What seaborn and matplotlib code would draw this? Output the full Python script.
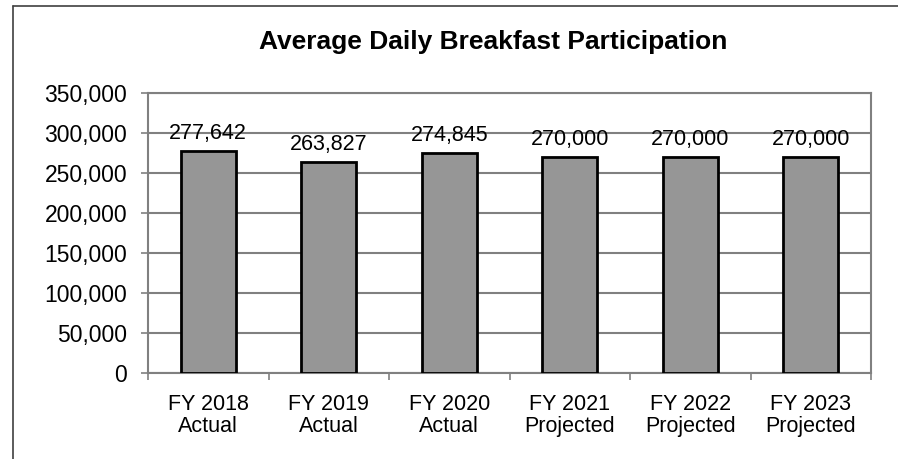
import matplotlib
matplotlib.use("Agg")
import matplotlib.pyplot as plt
import seaborn as sns
import pandas as pd
import numpy as np
from matplotlib.ticker import FuncFormatter, FixedLocator
from matplotlib.lines import Line2D

categories = ["FY 2018\nActual", "FY 2019\nActual", "FY 2020\nActual",
              "FY 2021\nProjected", "FY 2022\nProjected", "FY 2023\nProjected"]
values = [277642, 263827, 274845, 270000, 270000, 270000]
title = "Average Daily Breakfast Participation"

sns.set_theme(style="white")
plt.rcParams['font.family'] = ['Liberation Sans', 'DejaVu Sans']

df = pd.DataFrame({"cat": categories, "val": values})

fig = plt.figure(figsize=(8.98, 4.59), dpi=100)
ax = fig.add_axes([148/898, 1 - 373/459, (871-148)/898, (373-93)/459])

sns.barplot(data=df, x="cat", y="val", ax=ax, color="#969696", saturation=1,
            width=0.46, edgecolor="black", linewidth=2, zorder=3)

ax.set_ylim(0, 350000)
ax.set_xlim(-0.5, len(categories) - 0.5)
ax.yaxis.set_major_locator(FixedLocator(np.arange(0, 350001, 50000)))
ax.yaxis.set_major_formatter(FuncFormatter(lambda v, p: f"{int(v):,}"))
ax.grid(axis="y", color="#808080", linewidth=1.5, zorder=0)
ax.set_axisbelow(True)

for s in ax.spines.values():
    s.set_color("#808080")
    s.set_linewidth(1.5)

ax.tick_params(axis="y", which="major", left=True, length=5, width=1.2,
               color="#808080", labelsize=16.5, pad=10, labelcolor="black")
ax.tick_params(axis="x", which="major", bottom=False, labelsize=15.5, pad=9,
               labelcolor="black")
for lbl in ax.get_xticklabels():
    lbl.set_linespacing(1.1)
ax.xaxis.set_minor_locator(FixedLocator(np.arange(-0.5, len(categories), 1.0)))
ax.tick_params(axis="x", which="minor", bottom=True, length=5, width=1.2,
               color="#808080")
ax.set_xlabel("")
ax.set_ylabel("")

for i, v in enumerate(values):
    ax.annotate(f"{v:,}", (i, v), xytext=(0, 5), textcoords="offset points",
                ha="center", va="bottom", fontsize=15.5, color="black", zorder=5)

fig.text(493/898, 1 - 42/459, title, ha="center", va="center",
         fontsize=19, fontweight="bold", color="black")

# partial outer border (top and left)
fig.add_artist(Line2D([13/898, 1], [1 - 6/459, 1 - 6/459], transform=fig.transFigure,
                      color="#404040", linewidth=1.2))
fig.add_artist(Line2D([13/898, 13/898], [0, 1 - 6/459], transform=fig.transFigure,
                      color="#404040", linewidth=1.2))

fig.savefig("out.png", dpi=100)
